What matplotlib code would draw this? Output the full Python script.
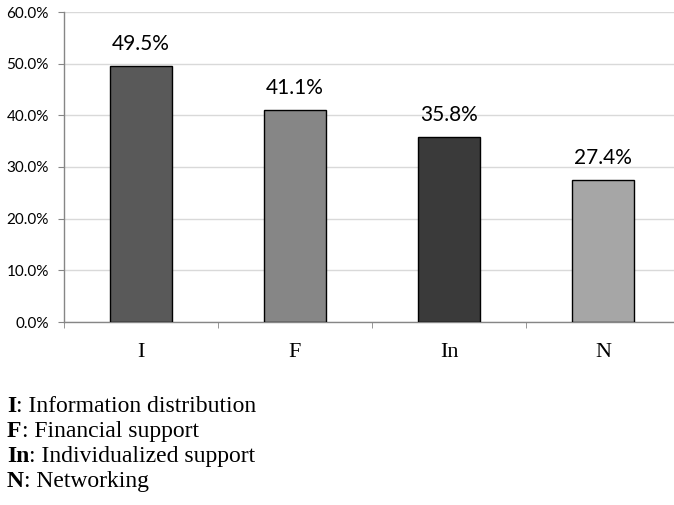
import matplotlib.pyplot as plt
from matplotlib.ticker import FuncFormatter

categories = ["I", "F", "In", "N"]
shares = [49.5, 41.1, 35.8, 27.4]
bar_colors = ["#595959", "#868686", "#3a3a3a", "#a6a6a6"]
y_ticks = [0, 10, 20, 30, 40, 50, 60]
legend_keys = ["I", "F", "In", "N"]
legend_names = ["Information distribution", "Financial support",
                "Individualized support", "Networking"]

W, H = 674, 505
fig = plt.figure(figsize=(W / 100, H / 100), dpi=100)
ax = fig.add_axes([64 / W, 1 - 322 / H, 616 / W, 310 / H])

x = range(len(categories))
bars = ax.bar(x, shares, width=0.4, color=bar_colors, edgecolor="black",
              linewidth=1.0, zorder=3)

for bar, value in zip(bars, shares):
    ax.annotate(f"{value:.1f}%", (bar.get_x() + bar.get_width() / 2, value),
                xytext=(0, 11.5), textcoords="offset points", ha="center",
                va="baseline", fontsize=15, family="Lato")

ax.set_xlim(-0.5, len(categories) - 0.5)
ax.set_ylim(0, 60)
ax.set_yticks(y_ticks)
ax.yaxis.set_major_formatter(FuncFormatter(lambda v, _: f"{v:.1f}%"))
ax.grid(axis="y", color="#d9d9d9", linewidth=1.0, zorder=0)

ax.set_xticks(x)
ax.set_xticklabels(categories, family="Liberation Serif", fontsize=16)
ax.set_xticks([i - 0.5 for i in range(len(categories) + 1)], minor=True)
ax.tick_params(axis="x", which="major", length=0, pad=15)
ax.tick_params(axis="x", which="minor", length=4, color="#868686")
ax.tick_params(axis="y", length=4, color="#868686", labelsize=11, pad=7)
for label in ax.get_yticklabels():
    label.set_family("Lato")

for side in ("top", "right"):
    ax.spines[side].set_visible(False)
for side in ("left", "bottom"):
    ax.spines[side].set_color("#868686")
    ax.spines[side].set_linewidth(1.0)

# key: description lines under the chart, bold key followed by plain text
fig.canvas.draw()
renderer = fig.canvas.get_renderer()
baselines = [412, 437, 462, 487]
for key, name, ypix in zip(legend_keys, legend_names, baselines):
    key_text = fig.text(7 / W, 1 - ypix / H, key, family="Liberation Serif",
                        fontweight="bold", fontsize=17, va="baseline", ha="left")
    key_w = key_text.get_window_extent(renderer).width
    fig.text((7 + key_w) / W, 1 - ypix / H, f": {name}",
             family="Liberation Serif", fontsize=17, va="baseline", ha="left")

fig.savefig("out.png", dpi=100)
